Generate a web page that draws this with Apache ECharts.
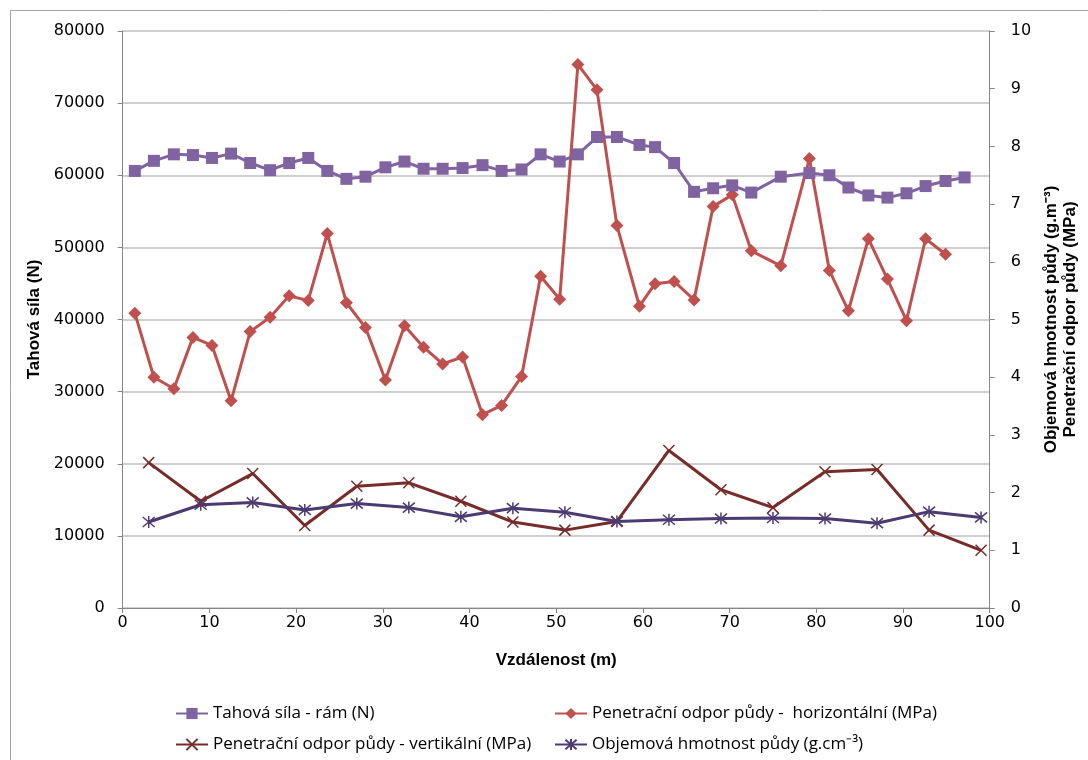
<!DOCTYPE html>
<html>
<head>
<meta charset="utf-8">
<script src="https://cdn.jsdelivr.net/npm/echarts@6/dist/echarts.min.js"></script>
<style>
html,body{margin:0;padding:0;background:#fff;}
#c{width:1088px;height:760px;}
</style>
</head>
<body>
<div id="c"></div>
<script>
// distances (m) for traction force and horizontal penetration
const xDist = [1.4, 3.6, 5.9, 8.1, 10.3, 12.5, 14.7, 17.0, 19.2, 21.4, 23.6, 25.8, 28.0, 30.3, 32.5, 34.7, 36.9, 39.2, 41.5, 43.7, 46.0, 48.2, 50.4, 52.5, 54.7, 57.0, 59.6, 61.4, 63.6, 65.9, 68.1, 70.3, 72.5, 75.9, 79.2, 81.5, 83.7, 86.0, 88.2, 90.4, 92.6, 94.9, 97.1];
const tahovaSila = [60600, 62000, 62900, 62800, 62400, 63000, 61700, 60700, 61700, 62400, 60600, 59500, 59800, 61100, 61900, 60900, 60900, 61000, 61400, 60600, 60800, 62900, 61900, 62900, 65300, 65300, 64200, 63900, 61700, 57700, 58200, 58600, 57600, 59800, 60300, 60000, 58300, 57200, 56900, 57500, 58500, 59200, 59700];
const penHorizontal = [5.11, 4.00, 3.80, 4.69, 4.55, 3.59, 4.79, 5.04, 5.41, 5.33, 6.49, 5.29, 4.86, 3.95, 4.89, 4.52, 4.23, 4.35, 3.35, 3.51, 4.01, 5.75, 5.35, 9.42, 8.98, 6.63, 5.23, 5.62, 5.66, 5.34, 6.96, 7.16, 6.19, 5.93, 7.79, 5.85, 5.15, 6.40, 5.70, 4.98, 6.40, 6.13];
// distances (m) for vertical penetration and bulk density
const xStep = [3, 9, 15, 21, 27, 33, 39, 45, 51, 57, 63, 69, 75, 81, 87, 93, 99];
const penVertical = [2.52, 1.85, 2.33, 1.43, 2.11, 2.17, 1.85, 1.49, 1.35, 1.50, 2.73, 2.05, 1.74, 2.36, 2.40, 1.35, 1.00];
const objemova = [1.49, 1.79, 1.83, 1.70, 1.81, 1.74, 1.58, 1.73, 1.66, 1.50, 1.53, 1.55, 1.56, 1.55, 1.47, 1.67, 1.57];

const names = [
  'Tahová síla - rám (N)',
  'Penetrační odpor půdy -  horizontální (MPa)',
  'Penetrační odpor půdy - vertikální (MPa)',
  'Objemová hmotnost půdy (g.cm⁻³)'
];
const leftTicks = [0, 10000, 20000, 30000, 40000, 50000, 60000, 70000, 80000];

const pair = (xs, ys) => ys.map((v, i) => [xs[i], v]);

const numFont = "'DejaVu Sans', sans-serif";
const titleFont = "'Liberation Sans Narrow', 'Liberation Sans', sans-serif";
const axisGray = '#868686';
const gridGray = '#BFBFBF';

const crossPath = 'path://M0,0L10,10M10,0L0,10';
const starPath = 'path://M0,0L10,10M10,0L0,10M5,-1L5,11';

const chart = echarts.init(document.getElementById('c'));
const legendText = {fontFamily: "'Open Sans', sans-serif", fontSize: 17, color: '#000'};
const mkLegend = (name, left, top) => ({
  data: [name], left: left, top: top, itemWidth: 32, itemHeight: 14, itemGap: 6,
  textStyle: legendText, selectedMode: false
});

chart.setOption({
  animation: false,
  backgroundColor: '#fff',
  graphic: [{
    type: 'rect', left: 8, top: 8, shape: {width: 1200, height: 800},
    style: {fill: 'none', stroke: '#A6A6A6', lineWidth: 1}, silent: true, z: -1
  }],
  legend: [
    mkLegend(names[0], 170, 700),
    mkLegend(names[1], 549, 700),
    mkLegend(names[2], 170, 731),
    mkLegend(names[3], 549, 731)
  ],
  grid: {left: 122.7, right: 96.3, top: 31, bottom: 152, containLabel: false},
  xAxis: {
    type: 'value', min: 0, max: 100, interval: 10,
    name: 'Vzdálenost (m)', nameLocation: 'middle', nameGap: 44,
    nameTextStyle: {fontFamily: titleFont, fontWeight: 'bold', fontSize: 17, color: '#000'},
    axisLine: {show: true, onZero: false, lineStyle: {color: axisGray, width: 1}},
    axisTick: {show: true, length: 5, inside: false, lineStyle: {color: axisGray}},
    axisLabel: {fontFamily: numFont, fontSize: 16, color: '#000', margin: 7},
    splitLine: {show: false}
  },
  yAxis: [{
    type: 'value', min: 0, max: 80000, interval: 10000, position: 'left',
    name: 'Tahová síla (N)', nameLocation: 'middle', nameRotate: 90, nameGap: 70,
    nameTextStyle: {fontFamily: titleFont, fontWeight: 'bold', fontSize: 17, color: '#000'},
    axisLine: {show: true, lineStyle: {color: axisGray, width: 1}},
    axisTick: {show: true, length: 5, lineStyle: {color: axisGray}},
    axisLabel: {fontFamily: numFont, fontSize: 16, color: '#000', margin: 18,
      formatter: v => leftTicks.includes(v) ? String(v) : ''},
    splitLine: {show: true, lineStyle: {color: gridGray, width: 1.5}}
  }, {
    type: 'value', min: 0, max: 10, interval: 1, position: 'right',
    name: 'Objemová hmotnost půdy (g.m⁻³)\nPenetrační odpor půdy (MPa)',
    nameLocation: 'middle', nameRotate: 90, nameGap: 50,
    nameTextStyle: {fontFamily: titleFont, fontWeight: 'bold', fontSize: 17, color: '#000', lineHeight: 19, align: 'center'},
    axisLine: {show: true, lineStyle: {color: axisGray, width: 1}},
    axisTick: {show: true, length: 5, lineStyle: {color: axisGray}},
    axisLabel: {fontFamily: numFont, fontSize: 16, color: '#000', margin: 21},
    splitLine: {show: false}
  }],
  series: [{
    name: names[0], type: 'line', yAxisIndex: 0,
    data: pair(xDist, tahovaSila),
    symbol: 'rect', symbolSize: 12,
    lineStyle: {color: '#8064A2', width: 3},
    itemStyle: {color: '#8064A2'}, z: 4
  }, {
    name: names[1], type: 'line', yAxisIndex: 1,
    data: pair(xDist, penHorizontal),
    symbol: 'diamond', symbolSize: 13,
    lineStyle: {color: '#C0504D', width: 3},
    itemStyle: {color: '#C0504D'}, z: 3
  }, {
    name: names[2], type: 'line', yAxisIndex: 1,
    data: pair(xStep, penVertical),
    symbol: crossPath, symbolSize: 11,
    lineStyle: {color: '#772C2A', width: 3},
    itemStyle: {color: '#772C2A', borderColor: '#772C2A', borderWidth: 1.5}, z: 2
  }, {
    name: names[3], type: 'line', yAxisIndex: 1,
    data: pair(xStep, objemova),
    symbol: starPath, symbolSize: 12,
    lineStyle: {color: '#4B3B72', width: 3},
    itemStyle: {color: '#4B3B72', borderColor: '#4B3B72', borderWidth: 1.5}, z: 2
  }]
});
</script>
</body>
</html>
